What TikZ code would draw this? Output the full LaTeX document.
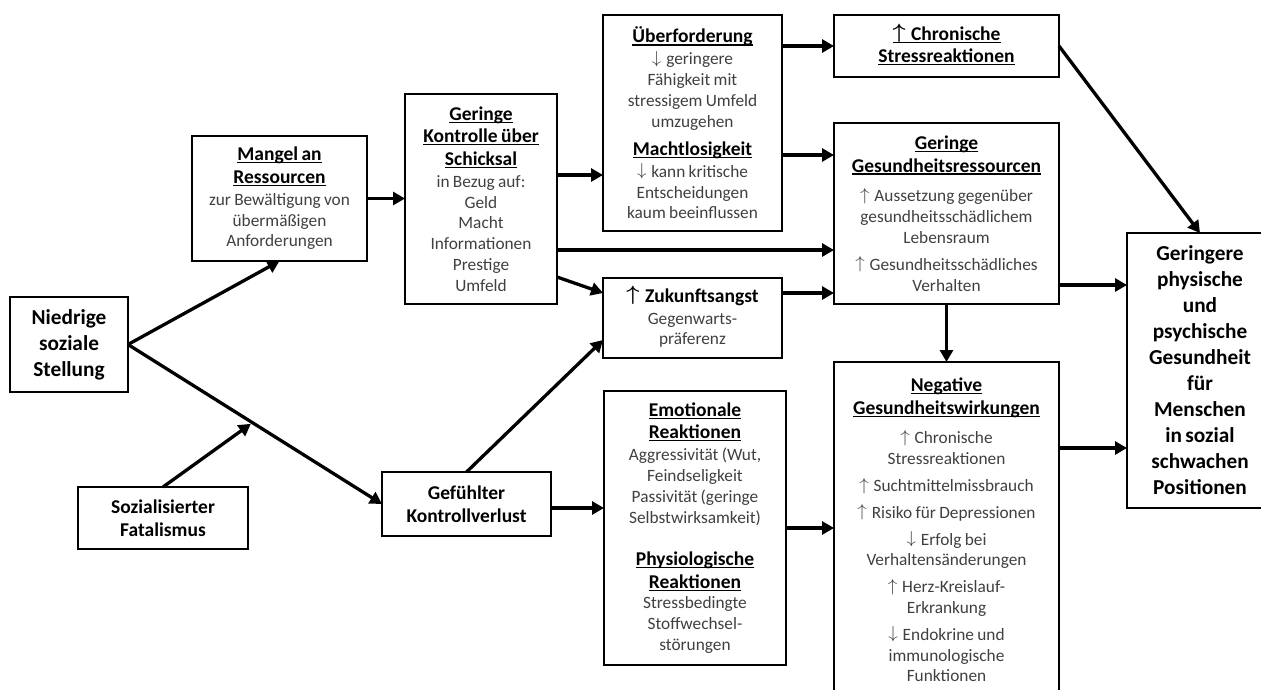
\documentclass[tikz,border=0pt]{standalone}
\usepackage{fontspec}
\setmainfont{Carlito}
\usepackage{bm}
\usetikzlibrary{arrows.meta,calc}
\definecolor{bodygray}{HTML}{404040}
\newcommand\bigf{\fontsize{21.3}{26}\selectfont\bfseries}
\newcommand\hf{\fontsize{19.5}{22.5}\selectfont\bfseries}
\newcommand\bdf{\fontsize{17.3}{20.8}\selectfont\color{bodygray}}
\newcommand\hul[1]{\leavevmode\setbox0\hbox{#1}\rlap{\rule[-0.14em]{\wd0}{0.065em}}\box0}
\newcommand\upa{\smash{\raisebox{0.08em}{\scalebox{1.1}[1]{$\uparrow$}}}\hspace{0.28em}}
\newcommand\dna{\smash{\raisebox{0.08em}{\scalebox{1.1}[1]{$\downarrow$}}}\hspace{0.28em}}
\newcommand\bupa{\smash{\raisebox{0.08em}{\scalebox{1.1}[1]{$\bm{\uparrow}$}}}\hspace{0.28em}}
\begin{document}
\begin{tikzpicture}[x=1pt,y=-1pt,
  box/.style={draw, line width=1.8pt, align=center, inner sep=3pt, outer sep=0pt},
  arr/.style={line width=3.3pt, -{Triangle[length=12pt,width=13pt]}}]
\fill[white] (0,0) rectangle (1261,689);
\useasboundingbox (0,0) rectangle (1261,689);

\node[box, minimum height=95pt, text width=112pt] (nied) at (69,344.5)
  {\bigf Niedrige\\soziale\\Stellung\par};
\node[box, minimum height=125pt, text width=169pt] (mangel) at (279.5,198.5)
  {{\hf\hul{Mangel an}\\\hul{Ressourcen}\par}\vspace{1.3pt}{\bdf zur Bewältigung von\\übermäßigen\\Anforderungen\par}};
\node[box, minimum height=62pt, text width=164pt] (soz) at (163,518)
  {\hf Sozialisierter\\Fatalismus\par};
\node[box, minimum height=210pt, text width=146pt] (kontr) at (481,199)
  {{\hf\hul{Geringe}\\\hul{Kontrolle über}\\\hul{Schicksal}\par}\vspace{1.3pt}{\bdf in Bezug auf:\\Geld\\Macht\\Informationen\\Prestige\\Umfeld\par}};
\node[box, minimum height=64pt, text width=163pt] (gef) at (466.5,504)
  {\hf Gefühlter\\Kontrollverlust\par};
\node[box, minimum height=216pt, text width=173pt] (ueber) at (692.5,123)
  {{\hf\hul{Überforderung}\par}\vspace{1.3pt}{\bdf \dna geringere\\Fähigkeit mit\\stressigem Umfeld\\umzugehen\par}\vspace{5.5pt}{\hf\hul{Machtlosigkeit}\par}\vspace{1.3pt}{\bdf \dna kann kritische\\Entscheidungen\\kaum beeinflussen\par}};
\node[box, minimum height=80pt, text width=173pt] (zuk) at (692.5,318)
  {{\hf \bupa Zukunftsangst\par}\vspace{1.3pt}{\bdf Gegenwarts-\\präferenz\par}};
\node[box, minimum height=274pt, text width=176pt] (emo) at (695,528)
  {{\hf\hul{Emotionale}\\\hul{Reaktionen}\par}\vspace{1.3pt}{\bdf Aggressivität (Wut,\\ Feindseligkeit\\Passivität (geringe\\ Selbstwirksamkeit)\par}\vspace{20pt}{\hf\hul{Physiologische}\\\hul{Reaktionen}\par}{\bdf Stressbedingte\\Stoffwechsel-\\störungen\par}};
\node[box, minimum height=62pt, text width=219pt] (chron) at (946.5,46)
  {\hf\hul{\bupa Chronische}\\\hul{Stressreaktionen}\par};
\node[box, minimum height=181pt, text width=219pt] (ges) at (946.5,213.5)
  {{\hf\hul{Geringe}\\\hul{Gesundheitsressourcen}\par}\vspace{9pt}{\bdf \upa Aussetzung gegenüber\\gesundheitsschädlichem\\Lebensraum\par}\vspace{6pt}{\bdf \upa Gesundheitsschädliches\\Verhalten\par}};
\node[box, minimum height=336pt, text width=219pt] (neg) at (946.5,530)
  {{\hf\hul{Negative}\\\hul{Gesundheitswirkungen}\par}\vspace{9pt}{\bdf \upa Chronische\\Stressreaktionen\par}\vspace{6pt}{\bdf \upa Suchtmittelmissbrauch\par}\vspace{6pt}{\bdf \upa Risiko für Depressionen\par}\vspace{6pt}{\bdf \dna Erfolg bei\\Verhaltensänderungen\par}\vspace{6pt}{\bdf \upa Herz-Kreislauf-\\Erkrankung\par}\vspace{6pt}{\bdf \dna Endokrine und\\immunologische\\Funktionen\par}\vspace{8pt}};
\node[box, minimum height=275pt, text width=140pt] (final) at (1200,370.5)
  {\bigf Geringere\\physische\\und\\psychische\\Gesundheit\\für\\Menschen\\in sozial\\schwachen\\Positionen\par};

% connectors
\draw[arr] (nied.east) -- (mangel.south);
\draw[arr] (nied.east) -- (gef.west);
\coordinate (fat) at ($(nied.east)!0.49!(gef.west)$);
\draw[arr, shorten >=2pt] (soz.north) -- (fat);
\draw[arr] (mangel.east) -- (mangel.east -| kontr.west);
\coordinate (k1) at ([yshift=24pt]kontr.east);
\draw[arr] (k1) -- (k1 -| ueber.west);
\coordinate (k2) at ([yshift=-51pt]kontr.east);
\draw[arr] (k2) -- (k2 -| ges.west);
\coordinate (k3) at ([yshift=-78pt]kontr.east);
\coordinate (z1) at ([yshift=25pt]zuk.west);
\draw[arr] (k3) -- (z1);
\draw[arr] (ueber.east |- chron.west) -- (chron.west);
\coordinate (u2) at ([yshift=-32pt]ueber.east);
\draw[arr] (u2) -- (u2 -| ges.west);
\coordinate (z2) at ([yshift=25pt]zuk.east);
\draw[arr] (z2) -- (z2 -| ges.west);
\coordinate (z3) at ([yshift=-22pt]zuk.west);
\draw[arr] (gef.north) -- (z3);
\coordinate (g1) at ([yshift=-4pt]gef.east);
\draw[arr] (g1) -- (g1 -| emo.west);
\draw[arr] (emo.east) -- (emo.east -| neg.west);
\draw[arr] (ges.south) -- (neg.north);
\draw[arr] (chron.east) -- (final.north);
\coordinate (s1) at ([yshift=-71.5pt]ges.east);
\draw[arr] (s1) -- (s1 -| final.west);
\coordinate (n1) at ([yshift=82pt]neg.east);
\draw[arr] (n1) -- (n1 -| final.west);
\end{tikzpicture}
\end{document}
